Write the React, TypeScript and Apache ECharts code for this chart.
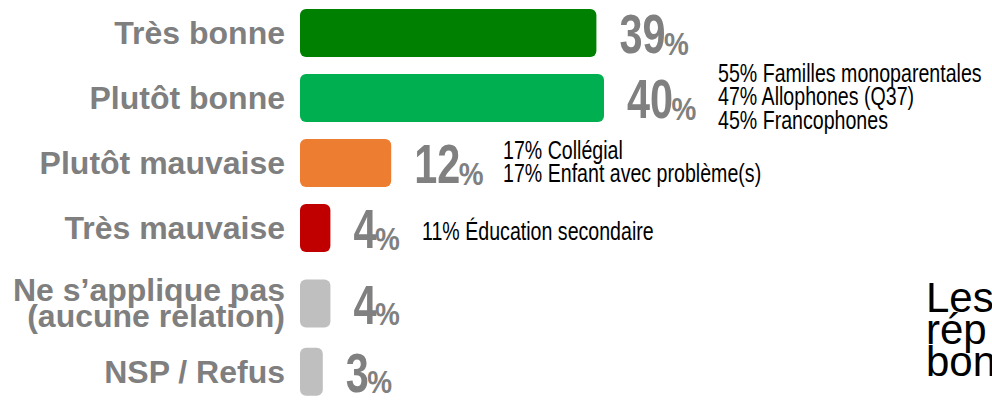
import React, { useEffect, useRef } from "react";
import * as echarts from "echarts";

const categories = [
  "Très bonne",
  "Plutôt bonne",
  "Plutôt mauvaise",
  "Très mauvaise",
  "Ne s’applique pas\n(aucune relation)",
  "NSP / Refus",
];
const values = [39, 40, 12, 4, 4, 3];
const barColors = ["#008000", "#00B050", "#ED7D31", "#C00000", "#BFBFBF", "#BFBFBF"];

const notesTresBonne = ["55% Familles monoparentales", "47% Allophones (Q37)", "45% Francophones"];
const notesPlutotMauvaise = ["17% Collégial", "17% Enfant avec problème(s)"];
const notesTresMauvaise = ["11% Éducation secondaire"];
const sideText = ["Les", "rép", "bon"];

const ARIAL = "'Liberation Sans', Arial, Helvetica, sans-serif";
const GREY_TXT = "#7F7F7F";

const DIGIT_SIZE = 56;
const DIGIT_SCALE = 0.74;
const PCT_SIZE = 31;
const PCT_SCALE = 0.9;

function renderValueLabel(params: any, api: any) {
  const v = api.value(0);
  const c = api.value(1);
  const pt = api.coord([v, c]);
  const x = pt[0] + 23;
  const yc = pt[1];
  const digits = String(v);
  const dW = digits.length * 0.556 * DIGIT_SIZE * DIGIT_SCALE;
  return {
    type: "group",
    children: [
      {
        type: "text",
        x,
        y: yc + 0.6,
        scaleX: DIGIT_SCALE,
        style: {
          text: digits,
          font: `bold ${DIGIT_SIZE}px ${ARIAL}`,
          fill: "#808080",
          align: "left",
          verticalAlign: "middle",
        },
      },
      {
        type: "text",
        x: x + dW - 1.5,
        y: yc + 10.5,
        scaleX: PCT_SCALE,
        style: {
          text: "%",
          font: `bold ${PCT_SIZE}px ${ARIAL}`,
          fill: "#808080",
          align: "left",
          verticalAlign: "middle",
        },
      },
    ],
  };
}

export default function App() {
  const ref = useRef<HTMLDivElement>(null);
  useEffect(() => {
    if (!ref.current) return;
    const chart = echarts.init(ref.current, null, { renderer: "svg" });
    const split = 4;
    const groups = [
      { cats: categories.slice(0, split), vals: values.slice(0, split), cols: barColors.slice(0, split) },
      { cats: categories.slice(split), vals: values.slice(split), cols: barColors.slice(split) },
    ];
    const grids = [
      { left: 300, width: 684, top: 0.5, height: 260 },
      { left: 300, width: 684, top: 269.25, height: 153 },
    ];
    const note = (x: number, y: number, lines: string[]) => ({
      type: "text",
      x,
      y,
      scaleX: 0.74,
      style: {
        text: lines.join("\n"),
        font: `26.5px ${ARIAL}`,
        fill: "#000000",
        lineHeight: 23.5,
        align: "left",
        verticalAlign: "top",
      },
    });
    const barSeries = groups.map((g, i) => ({
      type: "bar",
      xAxisIndex: i,
      yAxisIndex: i,
      barWidth: 48,
      data: g.vals.map((v, j) => ({ value: v, itemStyle: { color: g.cols[j] } })),
      itemStyle: { borderRadius: 6 },
    }));
    const labelSeries = groups.map((g, i) => ({
      type: "custom",
      xAxisIndex: i,
      yAxisIndex: i,
      data: g.vals.map((v, j) => [v, j]),
      encode: { x: 0, y: 1 },
      renderItem: renderValueLabel,
      z: 5,
    }));
    chart.setOption({
      animation: false,
      grid: grids.map((g) => ({ ...g, containLabel: false })),
      xAxis: groups.map((_, i) => ({
        type: "value",
        gridIndex: i,
        min: 0,
        max: 90,
        show: false,
      })),
      yAxis: groups.map((g, i) => ({
        type: "category",
        gridIndex: i,
        data: g.cats,
        inverse: true,
        axisLine: { show: false },
        axisTick: { show: false },
        axisLabel: {
          margin: 15,
          color: GREY_TXT,
          fontFamily: ARIAL,
          fontWeight: "bold",
          fontSize: 32,
          lineHeight: 26,
          align: "right",
        },
      })),
      series: [...barSeries, ...labelSeries],
      graphic: [
        note(718, 61, notesTresBonne),
        note(503, 138, notesPlutotMauvaise),
        note(422, 219, notesTresMauvaise),
        {
          type: "text",
          x: 926,
          y: 281,
          style: {
            text: sideText.join("\n"),
            font: `42px ${ARIAL}`,
            fill: "#000000",
            lineHeight: 32,
            align: "left",
            verticalAlign: "top",
          },
        },
      ],
    });
    return () => chart.dispose();
  }, []);
  return <div ref={ref} style={{ width: 992, height: 406, position: "absolute", left: 0, top: 0 }} />;
}
